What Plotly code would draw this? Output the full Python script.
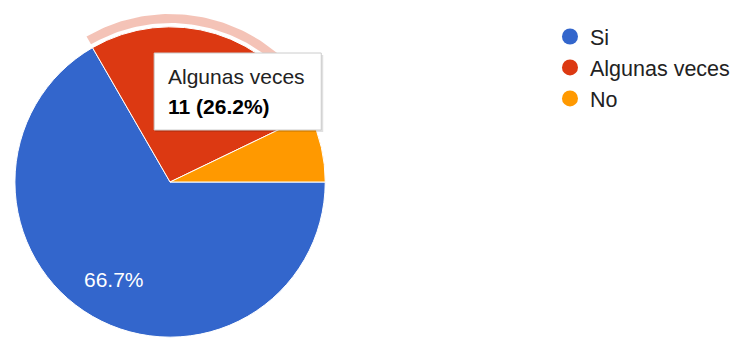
import math
import plotly.graph_objects as go

# Survey answers
labels = ["Si", "Algunas veces", "No"]
counts = [28, 11, 3]
colors = ["#3366CC", "#DC3912", "#FF9900"]
highlighted = "Algunas veces"

W, H = 735, 340
CX, CY, R = 171, 182, 156          # pie centre / radius in px (y from top)
RING_IN, RING_OUT = 159, 168        # hover ring radii in px
FONT = "Arial, Liberation Sans, sans-serif"

total = sum(counts)
fig = go.Figure()

# Main pie
fig.add_trace(go.Pie(
    labels=labels,
    values=counts,
    sort=False,
    direction="clockwise",
    rotation=90,
    marker=dict(colors=colors, line=dict(color="white", width=1)),
    textinfo="none",
    showlegend=False,
    hoverinfo="skip",
    domain=dict(x=[(CX - R) / W, (CX + R) / W],
                y=[(H - CY - R) / H, (H - CY + R) / H]),
))


def slice_angles(i):
    """Start/end compass angles (deg, clockwise from 12 o'clock) of slice i."""
    a0 = 90 + 360 * sum(counts[:i]) / total
    return a0, a0 + 360 * counts[i] / total


def px(a, r):
    return CX + r * math.sin(math.radians(a)), CY - r * math.cos(math.radians(a))


# Percentage label inside the largest slice
big = counts.index(max(counts))
a0, a1 = slice_angles(big)
lx, ly = px((a0 + a1) / 2, 0.72 * R)
fig.add_annotation(x=lx, y=ly, xref="x", yref="y", showarrow=False,
                   text=f"{100 * counts[big] / total:.1f}%",
                   font=dict(family=FONT, size=21, color="white"))

# Highlight ring around the hovered slice, on a pixel-scaled hidden axis
idx = labels.index(highlighted)
start, end = slice_angles(idx)
n = 80
angs = [start + (end - start) * i / n for i in range(n + 1)]
outer = [px(a, RING_OUT) for a in angs]
inner = [px(a, RING_IN) for a in reversed(angs)]
ring = outer + inner + [outer[0]]
fig.add_trace(go.Scatter(
    x=[p[0] for p in ring], y=[p[1] for p in ring], mode="lines", fill="toself",
    fillcolor="rgba(220,57,18,0.3)", line=dict(width=0),
    showlegend=False, hoverinfo="skip",
))

# Legend entries with round markers
for lab, col in zip(labels, colors):
    fig.add_trace(go.Scatter(
        x=[None], y=[None], mode="markers", name=lab,
        marker=dict(color=col, size=16, symbol="circle"),
    ))

# Tooltip box
BX0, BY0, BX1, BY1 = 155, 53, 323, 130
fig.add_shape(type="rect", x0=BX0 + 1, y0=BY0 + 2, x1=BX1 + 2, y1=BY1 + 2,
              xref="x", yref="y", layer="above",
              fillcolor="rgba(0,0,0,0.12)", line=dict(width=0))
fig.add_shape(type="rect", x0=BX0, y0=BY0, x1=BX1, y1=BY1,
              xref="x", yref="y", layer="above",
              fillcolor="white", line=dict(color="#cccccc", width=1))
pct = 100 * counts[idx] / total
fig.add_annotation(x=167, y=76, xref="x", yref="y", xanchor="left", yanchor="middle",
                   text=highlighted, showarrow=False,
                   font=dict(family=FONT, size=21, color="#222222"))
fig.add_annotation(x=167, y=106, xref="x", yref="y", xanchor="left", yanchor="middle",
                   text=f"<b>{counts[idx]} ({pct:.1f}%)</b>", showarrow=False,
                   font=dict(family=FONT, size=21, color="#000000"))

fig.update_layout(
    width=W, height=H,
    margin=dict(l=0, r=0, t=0, b=0),
    paper_bgcolor="white", plot_bgcolor="rgba(0,0,0,0)",
    xaxis=dict(range=[0, W], visible=False, fixedrange=True),
    yaxis=dict(range=[H, 0], visible=False, fixedrange=True),
    legend=dict(x=553 / W, y=(H - 16) / H, xanchor="left", yanchor="top",
                font=dict(family=FONT, size=21.5, color="#222222"),
                bgcolor="rgba(0,0,0,0)", itemclick=False),
    showlegend=True,
)

fig.write_html("out.html")
